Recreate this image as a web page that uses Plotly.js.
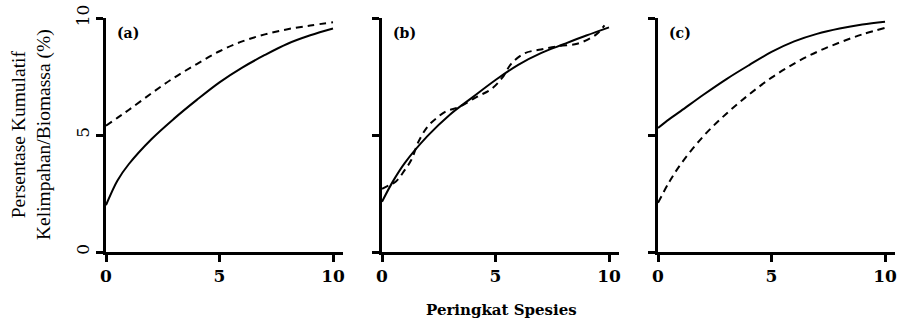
<!DOCTYPE html>
<html>
<head>
<meta charset="utf-8">
<script src="https://cdn.plot.ly/plotly-3.0.1.min.js"></script>
<style>html,body{margin:0;padding:0;background:#fff;}#chart{width:898px;height:320px;}</style>
</head>
<body>
<div id="chart"></div>
<script>
// ---- data ----
const panelLabels = ["(a)", "(b)", "(c)"];
const xTickVals = [0, 5, 10];
const xTickText = ["0", "5", "10"];
const yTickVals = [0, 5, 10];
const yTickText = ["0", "5", "10"];
const xTitle = "Peringkat Spesies";
const yTitle = "Persentase Kumulatif<br>Kelimpahan/Biomassa (%)";

const ranks = [0, 0.5, 1, 2, 3, 4, 5, 6, 7, 8, 9, 10];
const aSolid  = [2.0, 3.05, 3.75, 4.82, 5.7, 6.5, 7.25, 7.88, 8.42, 8.9, 9.26, 9.55];
const aDashed = [5.4, 5.73, 6.07, 6.78, 7.45, 8.03, 8.58, 9.0, 9.3, 9.52, 9.68, 9.82];

const bSolid  = [2.15, 3.05, 3.8, 4.95, 5.88, 6.62, 7.35, 8.0, 8.5, 8.88, 9.25, 9.6];
const bDashedRanks = [0, 0.3, 0.6, 1.0, 1.3, 1.6, 2.0, 2.4, 2.8, 3.4, 4.2, 4.8, 5.3, 5.7, 6.3, 7.0, 7.8, 8.6, 9.2, 9.5, 9.8];
const bDashed = [2.7, 2.85, 3.0, 3.5, 3.95, 4.7, 5.35, 5.72, 6.0, 6.2, 6.64, 6.95, 7.45, 8.05, 8.5, 8.65, 8.8, 8.9, 9.15, 9.35, 9.68];

const cSolid  = [5.3, 5.68, 6.02, 6.72, 7.38, 7.98, 8.55, 9.0, 9.32, 9.55, 9.72, 9.84];
const cDashed = [2.1, 3.0, 3.75, 4.95, 5.9, 6.72, 7.45, 8.05, 8.55, 8.95, 9.3, 9.58];

// ---- build ----
const W = 898;
const lineBase = {color: "#000", width: 2, shape: "spline", smoothing: 1};
function solid(x, y, ax) {
  return {x: x, y: y, xaxis: "x" + ax, yaxis: "y" + ax, mode: "lines", line: Object.assign({}, lineBase), hoverinfo: "skip"};
}
function dashed(x, y, ax) {
  return {x: x, y: y, xaxis: "x" + ax, yaxis: "y" + ax, mode: "lines", line: Object.assign({}, lineBase, {dash: "7px,5px"}), hoverinfo: "skip"};
}
const data = [
  solid(ranks, aSolid, ""), dashed(ranks, aDashed, ""),
  solid(ranks, bSolid, "2"), dashed(bDashedRanks, bDashed, "2"),
  solid(ranks, cSolid, "3"), dashed(ranks, cDashed, "3")
];

const serif = "Liberation Serif";
const boldSerif = "DejaVu Serif";
const domains = [[106 / W, 343 / W], [382 / W, 619 / W], [658 / W, 895 / W]];
function xax(i) {
  return {
    domain: domains[i], range: [0, 10.44], showgrid: false, zeroline: false,
    showline: true, linecolor: "#000", linewidth: 3,
    ticks: "outside", ticklen: 7, tickwidth: 3, tickcolor: "#000",
    tickmode: "array", tickvals: xTickVals, ticktext: xTickText,
    tickfont: {family: boldSerif, size: 17, color: "#000", weight: "bold"},
    fixedrange: true
  };
}
function yax(i, anchor) {
  return {
    domain: [0, 1], range: [0, 10], anchor: anchor, showgrid: false, zeroline: false,
    showline: true, linecolor: "#000", linewidth: 3,
    ticks: "outside", ticklen: 7, tickwidth: 3, tickcolor: "#000",
    tickmode: "array", tickvals: yTickVals, ticktext: yTickText,
    showticklabels: i === 0, tickangle: -90,
    tickfont: {family: boldSerif, size: 17, color: "#000"},
    fixedrange: true
  };
}
const annotations = panelLabels.map((t, i) => ({
  text: t, xref: "paper", yref: "paper",
  x: domains[i][0] + 9 / W, y: 1 - 15 / 234, xanchor: "left", yanchor: "middle",
  showarrow: false, font: {family: boldSerif, size: 14, color: "#000", weight: "bold"}
}));
annotations.push({
  text: xTitle, xref: "paper", yref: "paper", x: 502 / W, y: -58 / 234,
  xanchor: "center", yanchor: "middle", showarrow: false,
  font: {family: boldSerif, size: 15, color: "#000", weight: "bold"}
});
annotations.push({
  text: yTitle, xref: "paper", yref: "paper", x: 31 / W, y: 0.5,
  xanchor: "center", yanchor: "middle", showarrow: false, textangle: -90,
  font: {family: serif, size: 19.5, color: "#000"}
});

const layout = {
  width: 898, height: 320,
  font: {family: serif, color: "#000"},
  margin: {l: 0, r: 0, t: 18, b: 68, pad: 0},
  paper_bgcolor: "#fff", plot_bgcolor: "#fff",
  showlegend: false,
  xaxis: Object.assign(xax(0), {anchor: "y"}),
  xaxis2: Object.assign(xax(1), {anchor: "y2"}),
  xaxis3: Object.assign(xax(2), {anchor: "y3"}),
  yaxis: yax(0, "x"), yaxis2: yax(1, "x2"), yaxis3: yax(2, "x3"),
  annotations: annotations
};
Plotly.newPlot("chart", data, layout, {displayModeBar: false, staticPlot: true});
</script>
</body>
</html>
